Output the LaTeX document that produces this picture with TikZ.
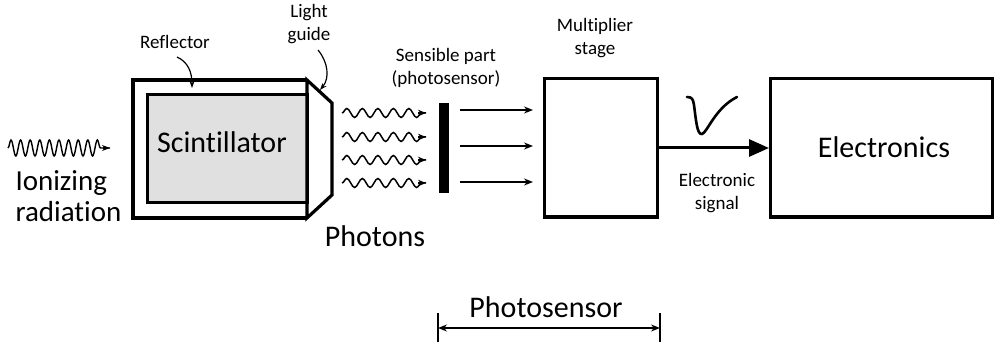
\documentclass[tikz,border=0pt]{standalone}
\usepackage{fontspec}
\setmainfont{Carlito}[RawFeature={-liga}]
\usetikzlibrary{arrows.meta,decorations.pathmorphing}
\begin{document}
\begin{tikzpicture}[x=1pt,y=-1pt,
  big/.style={font=\fontsize{30}{36}\selectfont},
  small/.style={font=\fontsize{19}{23}\selectfont, align=center},
  thinarrow/.style={line width=1.4pt, -{Stealth[length=9pt,width=7pt]}},
  wavearrow/.style={line width=1.5pt, decorate, decoration={snake, segment length=15.5pt, amplitude=4.5pt, post length=4pt}},
  labelarrow/.style={line width=1.2pt, -{Stealth[length=7pt,width=5pt]}},
  blockbox/.style={draw, line width=3pt, inner sep=0pt}]
\useasboundingbox (0,0) rectangle (994,342);

% reflector + scintillator + light guide
\draw[line width=3.2pt, line join=miter] (307,80) -- (133,80) -- (133,218) -- (307,218);
\node[draw, line width=3pt, fill=black!12, minimum width=160pt, minimum height=108pt, inner sep=0pt] (scint) at (227,149) {};
\draw[line width=3.2pt, line join=miter] (307,80) -- (332,103) -- (332,195) -- (307,218) -- cycle;
\node[big, anchor=base] (scinttxt) at (222,153) {Scintillator};

% labels reflector/light guide
\node[small] (refl) at (175,42) {Reflector};
\coordinate (reflA) at (177,57);
\coordinate (reflB) at (192,88);
\draw[labelarrow] (reflA) .. controls (188,62) and (192,72) .. (reflB);
\node[small] (lg) at (309,24) {Light\\guide};
\coordinate (lgA) at (318,50);
\coordinate (lgB) at (320,90);
\draw[labelarrow] (lgA) .. controls (328,62) and (330,78) .. (lgB);

% ionizing radiation
\coordinate (ionA) at (8,148);
\coordinate (ionB) at (110,148);
\draw[line width=1.4pt, decorate, decoration={snake, segment length=9.6pt, amplitude=8pt, post length=8pt}] (ionA) -- (ionB);
\draw[-{Stealth[length=8pt,width=6pt]}, line width=1.2pt] (103,148) -- (ionB);
\node[big, font=\fontsize{29}{34}\selectfont, anchor=base west] (ion1) at (12,190) {Ionizing};
\node[big, font=\fontsize{29}{34}\selectfont, anchor=base west] (ion2) at (12,222) {radiation};

% photons
\foreach \y/\n in {113/1,137/2,160/3,183/4}{
  \coordinate (pA\n) at (342,\y);
  \coordinate (pB\n) at (426,\y);
  \draw[wavearrow] (pA\n) -- (pB\n);
  \draw[line width=1.2pt, -{Stealth[length=8pt,width=6.5pt]}] (418,\y) -- (pB\n);
}
\node[big, anchor=base] (phot) at (375,246) {Photons};

% photosensor bar
\node[fill=black, minimum width=10pt, minimum height=90pt, inner sep=0pt] (bar) at (444,148) {};
\node[small] (sens) at (446,68) {Sensible part\\(photosensor)};

% multiplier stage
\node[blockbox, minimum width=113pt, minimum height=138pt] (mult) at (600.5,148) {};
\node[small] (multtxt) at (595,38) {Multiplier\\stage};
\foreach \y/\n in {110/1,146/2,182/3}{
  \coordinate (aA\n) at (460,\y);
  \coordinate (aB\n) at (533,\y);
  \draw[thinarrow] (aA\n) -- (aB\n);
}

% electronics
\node[blockbox, minimum width=222pt, minimum height=138pt] (elec) at (881.5,148) {};
\node[big] (electxt) at (884,147) {Electronics};
\draw[line width=3pt, -{Triangle[length=20pt,width=17pt]}] (mult.east) -- (elec.west);
\node[small] (sig) at (717,193) {Electronic\\signal};
% pulse
\draw[line width=2.6pt, line cap=round] (687,97) .. controls (692,97) and (693,99) .. (694,105)
  .. controls (696,120) and (697,135) .. (702,134)
  .. controls (707,133) and (715,108) .. (737,97);

% photosensor dimension
\coordinate (dL) at (438,328);
\coordinate (dR) at (660,328);
\draw[line width=1.4pt] (438,313) -- (438,342);
\draw[line width=1.4pt] (660,313) -- (660,342);
\draw[line width=1.3pt, {Stealth[length=9pt,width=7pt]}-{Stealth[length=9pt,width=7pt]}] (dL) -- (dR);
\node[big, anchor=base] (ps) at (546,317) {Photosensor};
\end{tikzpicture}
\end{document}
